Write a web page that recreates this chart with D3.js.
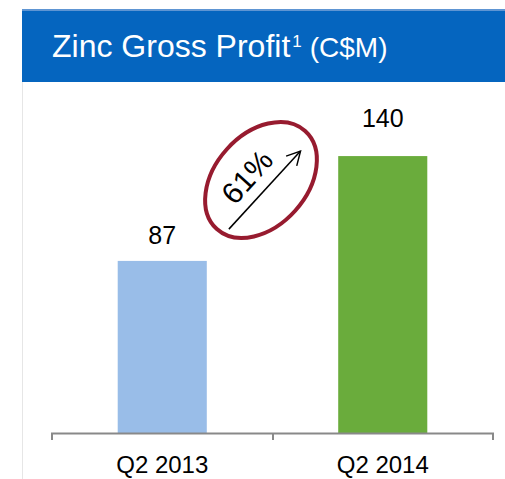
<!DOCTYPE html>
<html>
<head>
<meta charset="utf-8">
<script src="https://cdnjs.cloudflare.com/ajax/libs/d3/7.8.5/d3.min.js"></script>
<style>
  body { margin: 0; background: #fff; }
  svg { display: block; font-family: "Liberation Sans", Arial, sans-serif; }
</style>
</head>
<body>
<svg id="chart" width="505" height="479"></svg>
<script>
// chart data
var categories = ["Q2 2013", "Q2 2014"];
var values = [87, 140];
var barColors = ["#99BDE8", "#6AAC3C"];
var growthLabel = "61%";

var svg = d3.select("#chart");
var width = 505, height = 479;
var FONT = "'Liberation Sans', Arial, sans-serif";

// header band
svg.append("rect")
    .attr("x", 22).attr("y", 9)
    .attr("width", width - 22).attr("height", 73)
    .attr("fill", "#0565BF");
svg.append("rect")
    .attr("x", 22).attr("y", 9)
    .attr("width", width - 22).attr("height", 2)
    .attr("fill", "#5E95D3");

// left frame line
svg.append("line")
    .attr("x1", 22.5).attr("x2", 22.5)
    .attr("y1", 82).attr("y2", height)
    .attr("stroke", "#E6E6E6").attr("stroke-width", 1);

var title = svg.append("text")
    .attr("x", 52).attr("y", 57)
    .attr("fill", "#fff")
    .style("font-size", "32px");
title.append("tspan").text("Zinc Gross Profit");
title.append("tspan").attr("dx", 2).attr("dy", -10).style("font-size", "17px").text("1");
title.append("tspan").attr("dx", 8).attr("dy", 10).style("font-size", "28px").text("(C$M)");

// scales
var x = d3.scaleBand()
    .domain(categories)
    .range([52, 493])
    .paddingInner(0.596)
    .paddingOuter(0.298);

var y = d3.scaleLinear()
    .domain([0, 150])
    .range([433, 433 - 150 * 1.978]);

var g = svg.append("g");

// bars
g.selectAll(".bar")
    .data(values)
  .enter().append("rect")
    .attr("class", "bar")
    .attr("x", function(d, i) { return x(categories[i]); })
    .attr("y", function(d) { return y(d); })
    .attr("width", x.bandwidth())
    .attr("height", function(d) { return y(0) - y(d); })
    .attr("fill", function(d, i) { return barColors[i]; });

// value labels (taller bar label sits a bit higher, as in the slide)
var labelGap = [17, 29];
g.selectAll(".val")
    .data(values)
  .enter().append("text")
    .attr("class", "val")
    .attr("x", function(d, i) { return x(categories[i]) + x.bandwidth() / 2; })
    .attr("y", function(d, i) { return y(d) - labelGap[i]; })
    .attr("text-anchor", "middle")
    .style("font-size", "25px")
    .attr("fill", "#000")
    .text(function(d) { return d; });

// x axis
var xAxis = d3.axisBottom(x).tickSize(0).tickPadding(0);
var ax = g.append("g")
    .attr("transform", "translate(0," + y(0) + ")")
    .call(xAxis);
ax.select(".domain").remove();
ax.selectAll("text")
    .attr("y", 40)
    .attr("dy", 0)
    .style("font-size", "24px")
    .style("font-family", FONT)
    .attr("fill", "#000");

var edges = [52, 273, 493];
ax.append("line")
    .attr("x1", 51).attr("x2", 494)
    .attr("y1", 0.5).attr("y2", 0.5)
    .attr("stroke", "#898989").attr("stroke-width", 2);
ax.selectAll(".edge")
    .data(edges)
  .enter().append("line")
    .attr("class", "edge")
    .attr("x1", function(d) { return d; }).attr("x2", function(d) { return d; })
    .attr("y1", 0).attr("y2", 7)
    .attr("stroke", "#898989").attr("stroke-width", 2);

// growth annotation
var cx = 261, cy = 180;
var ann = svg.append("g")
    .attr("transform", "translate(" + cx + "," + cy + ") rotate(-48)");

svg.append("defs").append("marker")
    .attr("id", "head")
    .attr("viewBox", "0 0 20 20")
    .attr("refX", 18).attr("refY", 10)
    .attr("markerWidth", 18).attr("markerHeight", 18)
    .attr("markerUnits", "userSpaceOnUse")
    .attr("orient", "auto")
  .append("path")
    .attr("d", "M3,2 L18,10 L3,18")
    .attr("fill", "none")
    .attr("stroke", "#000")
    .attr("stroke-width", 1.6);

ann.append("ellipse")
    .attr("cx", 0).attr("cy", 0)
    .attr("rx", 66).attr("ry", 46)
    .attr("fill", "none")
    .attr("stroke", "#971B2F")
    .attr("stroke-width", 4);

ann.append("line")
    .attr("x1", -58).attr("y1", 9)
    .attr("x2", 48).attr("y2", 10)
    .attr("stroke", "#000").attr("stroke-width", 1.5)
    .attr("marker-end", "url(#head)");

ann.append("text")
    .attr("x", -7).attr("y", -2)
    .attr("text-anchor", "middle")
    .style("font-size", "30px")
    .attr("fill", "#000")
    .text(growthLabel);
</script>
</body>
</html>
